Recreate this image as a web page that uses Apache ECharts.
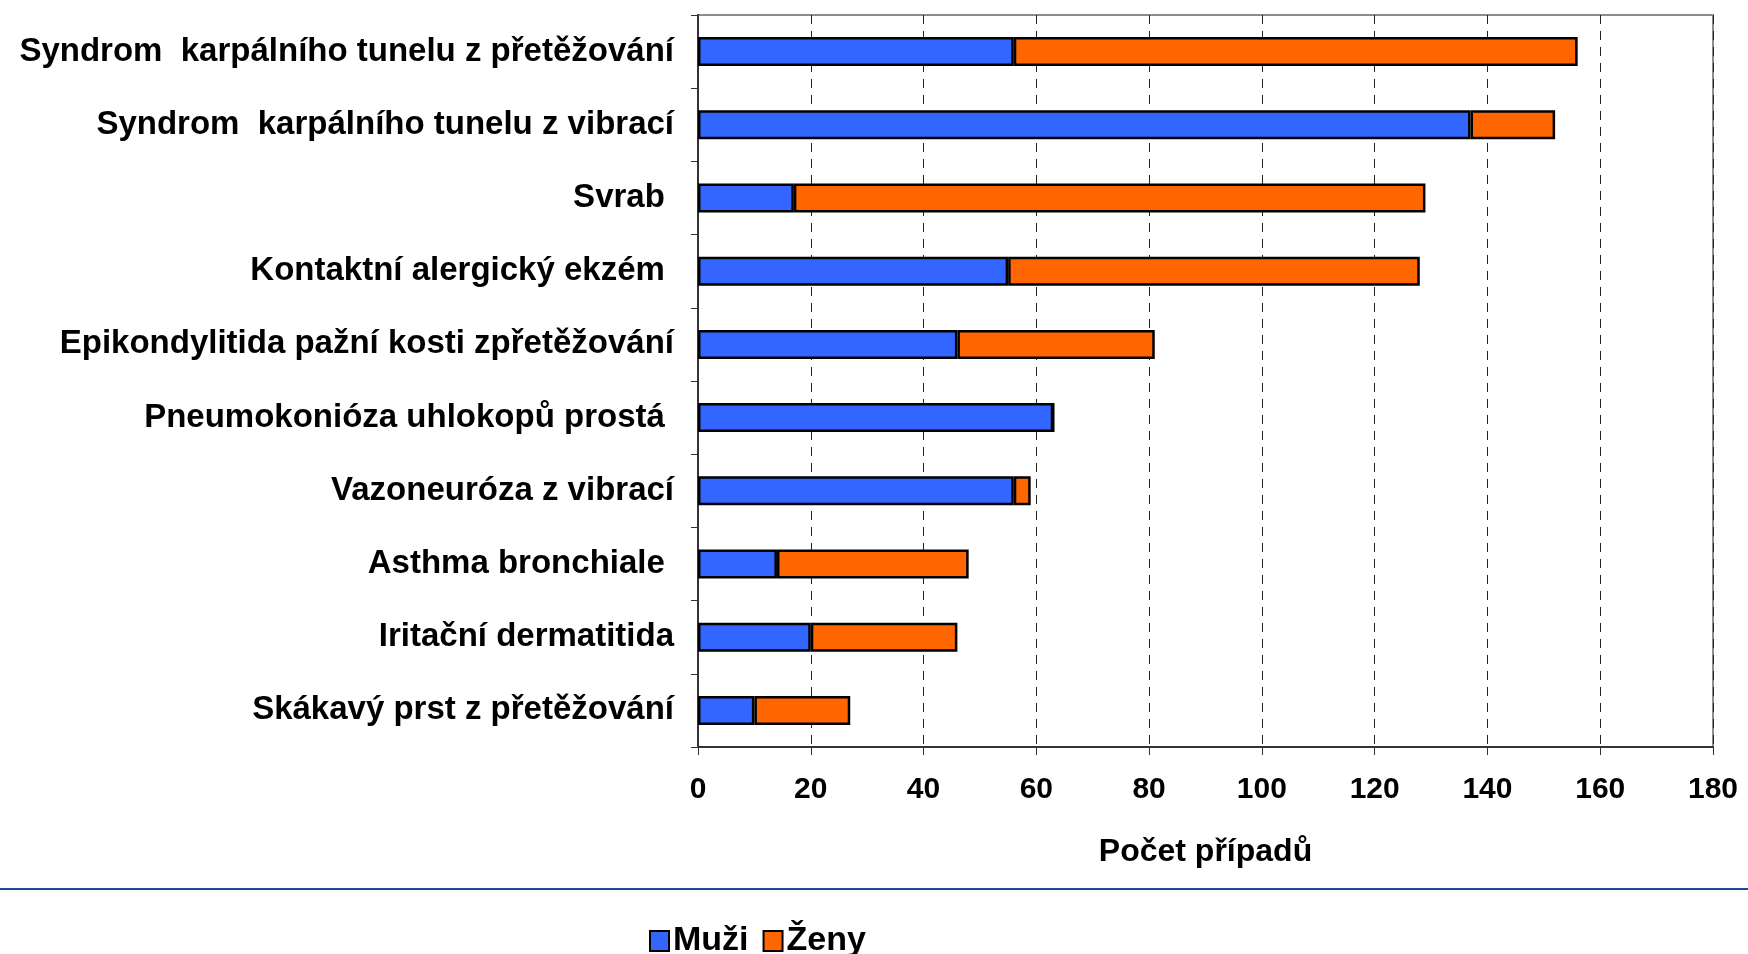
<!DOCTYPE html>
<html>
<head>
<meta charset="utf-8">
<script src="https://cdn.jsdelivr.net/npm/echarts@6/dist/echarts.min.js"></script>
<style>
  html, body { margin: 0; padding: 0; background: #fff; }
  #chart { width: 1748px; height: 954px; }
</style>
</head>
<body>
<div id="chart"></div>
<script>
// kategorie nemocí (shora dolů)
const categories = [
  "Syndrom  karpálního tunelu z přetěžování",
  "Syndrom  karpálního tunelu z vibrací",
  "Svrab ",
  "Kontaktní alergický ekzém ",
  "Epikondylitida pažní kosti zpřetěžování",
  "Pneumokonióza uhlokopů prostá ",
  "Vazoneuróza z vibrací",
  "Asthma bronchiale ",
  "Iritační dermatitida",
  "Skákavý prst z přetěžování"
];
const muzi = [56, 137, 17, 55, 46, 63, 56, 14, 20, 10];
const zeny = [100, 15, 112, 73, 35, 0, 3, 34, 26, 17];
const axisName = "Počet případů";

const font = "'Liberation Sans', Arial, sans-serif";
const myChart = echarts.init(document.getElementById("chart"));
myChart.setOption({
  animation: false,
  backgroundColor: "#fff",
  textStyle: { fontFamily: font },
  grid: {
    left: 698,
    right: 35,
    top: 15,
    bottom: 207,
    show: true,
    borderColor: "#8c8c8c",
    borderWidth: 2
  },
  legend: {
    data: ["Muži", "Ženy"],
    icon: "rect",
    left: 644,
    top: 919,
    itemWidth: 19,
    itemHeight: 20,
    itemGap: 14,
    textStyle: { fontSize: 34, fontWeight: "bold", color: "#000", fontFamily: font, padding: [0, 0, 0, -1] }
  },
  xAxis: {
    type: "value",
    min: 0,
    max: 180,
    interval: 20,
    name: axisName,
    nameLocation: "middle",
    nameGap: 89,
    nameTextStyle: { fontSize: 32, fontWeight: "bold", color: "#000" },
    axisLine: { show: true, lineStyle: { color: "#333", width: 2 } },
    axisTick: { show: true, length: 8, lineStyle: { color: "#333", width: 1 } },
    axisLabel: { fontSize: 30, fontWeight: "bold", color: "#000", margin: 28 },
    splitLine: {
      show: true,
      lineStyle: { color: "#222", width: 1, type: [9, 7] }
    }
  },
  yAxis: {
    type: "category",
    data: categories,
    inverse: true,
    axisLine: { show: true, lineStyle: { color: "#333", width: 2 } },
    axisTick: { show: true, length: 7, lineStyle: { color: "#333", width: 1 } },
    axisLabel: { fontSize: 33, fontWeight: "bold", color: "#000", margin: 24 },
    splitLine: { show: false }
  },
  graphic: [
    {
      type: "line",
      shape: { x1: 0, y1: 889, x2: 1748, y2: 889 },
      style: { stroke: "#1f4a8f", lineWidth: 2 }
    }
  ],
  series: [
    {
      name: "Muži",
      type: "bar",
      stack: "celkem",
      data: muzi,
      barWidth: 29,
      itemStyle: { color: "#3366ff", borderColor: "#000", borderWidth: 2.5 }
    },
    {
      name: "Ženy",
      type: "bar",
      stack: "celkem",
      data: zeny,
      barWidth: 29,
      itemStyle: { color: "#ff6600", borderColor: "#000", borderWidth: 2.5 }
    }
  ]
});
</script>
</body>
</html>
